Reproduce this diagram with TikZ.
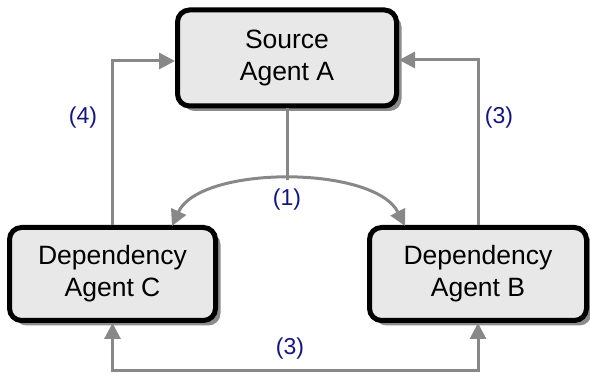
\documentclass[tikz,border=0pt]{standalone}
\usepackage{fontspec}
\setmainfont{Liberation Sans}
\usetikzlibrary{arrows.meta,shadows,calc}
\definecolor{lblcol}{RGB}{20,20,130}
\definecolor{boxfill}{RGB}{232,232,232}
\definecolor{conncol}{RGB}{136,136,136}
\definecolor{shadowcol}{RGB}{140,140,140}
\begin{document}
\begin{tikzpicture}[x=1pt,y=-1pt,
  agent/.style={draw=black, line width=5pt, fill=boxfill, rounded corners=12pt,
    align=center, font=\fontsize{26.5}{32}\selectfont, inner sep=0pt,
    drop shadow={shadow xshift=5pt, shadow yshift=-5pt, fill=shadowcol, opacity=1}},
  conn/.style={draw=conncol, line width=3pt},
  tip/.style={-{Triangle[length=16pt,width=16pt]}},
  bothtip/.style={{Triangle[length=16pt,width=16pt]}-{Triangle[length=16pt,width=16pt]}},
  lbl/.style={text=lblcol, font=\fontsize{23}{27}\selectfont, inner sep=0pt}]
\useasboundingbox (0,0) rectangle (590,374);

\node[agent, minimum width=219pt, minimum height=96pt] (A) at (287,58) {Source\\Agent A};
\node[agent, minimum width=206pt, minimum height=93pt] (C) at (112.5,274) {Dependency\\Agent C};
\node[agent, minimum width=217pt, minimum height=93pt] (B) at (478,274) {Dependency\\Agent B};

\coordinate (top) at (287,180);
\coordinate (cl) at (172,226);
\coordinate (cr) at (405,226);
\coordinate (bl) at (112.5,371);
\coordinate (br) at (478,371);

% (1) split
\draw[conn] (A.south) -- (top);
\draw[conn, bothtip] (cl) .. controls (200,165) and (374,165) .. (cr);

% (4) C to A
\draw[conn, tip] (C.north) |- ($(A.west)+(0,3)$);
% (3) B to A
\draw[conn, tip] (B.north) |- ($(A.east)+(0,2)$);
% (3) bottom
\draw[conn, bothtip] (C.south) -- (bl) -- (br) -- (B.south);

\node[lbl] (l1) at (287,200) {(1)};
\node[lbl] (l4) at (83,118) {(4)};
\node[lbl] (l3a) at (499,118) {(3)};
\node[lbl] (l3b) at (290,349) {(3)};
\end{tikzpicture}
\end{document}
